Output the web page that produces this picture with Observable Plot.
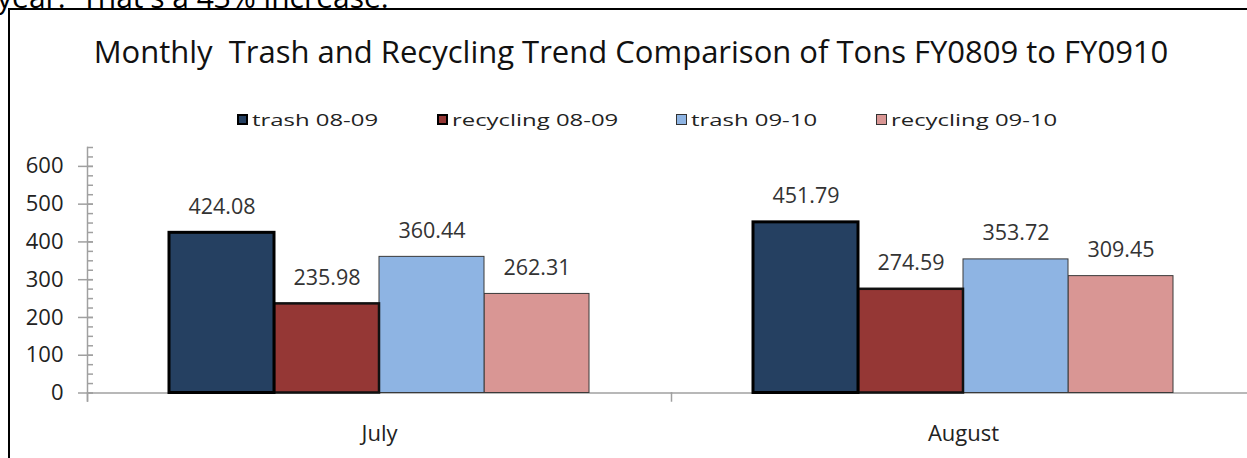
<!DOCTYPE html>
<html>
<head>
<meta charset="utf-8">
<script src="https://cdn.jsdelivr.net/npm/d3@7"></script>
<script src="https://cdn.jsdelivr.net/npm/@observablehq/plot@0.6"></script>
<style>
  html, body { margin: 0; padding: 0; background: #fff; overflow: hidden; width: 1247px; height: 458px; }
  body { position: relative; font-family: "Open Sans", sans-serif; }
  #intro { position: absolute; left: -3px; top: -24px; font-size: 30px; line-height: 41px; color: #000; white-space: nowrap; }
  #frame { position: absolute; left: 8px; top: 8px; width: 1400px; height: 600px; border-left: 2px solid #000; border-top: 2px solid #000; }
  #title { position: absolute; left: 0; width: 1262px; top: 30px; text-align: center; font-size: 31px; color: #111; white-space: nowrap; }
  #legend { position: absolute; left: 237px; top: 106px; height: 26px; display: flex; font-size: 17.2px; color: #222; white-space: nowrap; }
  .item { display: flex; align-items: center; }
  .sw { width: 11px; height: 11px; margin-right: 4px; box-sizing: border-box; flex: none; }
  .lt { display: inline-block; transform: scaleX(1.39); transform-origin: left center; }
  #chart { position: absolute; left: 0; top: 140px; }
  #chart svg { max-width: none !important; overflow: hidden; }
</style>
</head>
<body>
<div id="intro">year.&nbsp; That's a 43% increase.</div>
<div id="frame"></div>
<div id="title"></div>
<div id="legend"></div>
<div id="chart"></div>
<script>
// ---- data ----
const titleText = "Monthly\u00a0 Trash and Recycling Trend Comparison of Tons FY0809 to FY0910";
const months = ["July", "August"];
const series = ["trash 08-09", "recycling 08-09", "trash 09-10", "recycling 09-10"];
const julyValues = [424.08, 235.98, 360.44, 262.31];
const augustValues = [451.79, 274.59, 353.72, 309.45];
const yTicks = [0, 100, 200, 300, 400, 500, 600];
const yMinorTicks = d3.range(0, 651, 25);
const yMax = 650;

// ---- styles ----
const fills = ["#254061", "#953735", "#8eb4e3", "#d99694"];
const strokes = ["#000000", "#111111", "#3a3a3a", "#3a3a3a"];
const strokeWidths = [3, 2.5, 1, 1];
const legendWidths = [200, 239, 200, 200];
const drawOrder = [3, 2, 1, 0];

const rows = months.flatMap((m, i) =>
  series.map((s, j) => ({month: m, series: s, value: (i === 0 ? julyValues : augustValues)[j]}))
);

document.getElementById("title").textContent = titleText;

const legend = document.getElementById("legend");
series.forEach((s, j) => {
  const item = document.createElement("div");
  item.className = "item";
  item.style.width = legendWidths[j] + "px";
  const sw = document.createElement("span");
  sw.className = "sw";
  sw.style.background = fills[j];
  sw.style.border = (j < 2 ? "2px solid #000" : "1px solid #333");
  const t = document.createElement("span");
  t.className = "lt";
  t.textContent = s;
  item.appendChild(sw);
  item.appendChild(t);
  legend.appendChild(item);
});

const chart = Plot.plot({
  width: 1255,
  height: 318,
  marginLeft: 87,
  marginRight: 0,
  marginTop: 7,
  marginBottom: 65.5,
  style: {fontFamily: "Open Sans, sans-serif", maxWidth: "none", background: "transparent"},
  fx: {domain: months, padding: 0, label: null},
  x: {domain: series, paddingInner: 0, paddingOuter: 0.761, axis: null},
  y: {domain: [0, yMax], label: null},
  marks: [
    Plot.frame({anchor: "bottom", stroke: "#a0a0a0", strokeWidth: 1.5}),
    Plot.frame({anchor: "left", facetAnchor: "left", stroke: "#a0a0a0", strokeWidth: 1.5, insetBottom: -8}),
    Plot.frame({anchor: "left", stroke: "#a0a0a0", strokeWidth: 1.5, insetTop: 245.5, insetBottom: -8}),
    Plot.axisY({ticks: yMinorTicks, tickSize: -6, text: null, stroke: "#a0a0a0", strokeWidth: 1.5, label: null}),
    Plot.axisY({ticks: yTicks, tickSize: 15, dx: 6, text: null, stroke: "#a0a0a0", strokeWidth: 1.5, label: null}),
    Plot.axisY({ticks: yTicks, tickSize: 0, tickPadding: 24, fontSize: 22, fill: "#222", label: null}),
    Plot.axisFx({anchor: "bottom", tickSize: 0, tickPadding: 32, fontSize: 22, fill: "#222", label: null}),
    ...drawOrder.map(j => Plot.barY(rows.filter(d => d.series === series[j]), {
      fx: "month", x: "series", y: "value",
      fill: fills[j], stroke: strokes[j], strokeWidth: strokeWidths[j]
    })),
    Plot.text(rows, {
      fx: "month", x: "series", y: "value",
      text: d => d.value.toFixed(2),
      lineAnchor: "bottom", dy: -19, fontSize: 21.5, fill: "#333"
    })
  ]
});
document.getElementById("chart").appendChild(chart);
</script>
</body>
</html>
